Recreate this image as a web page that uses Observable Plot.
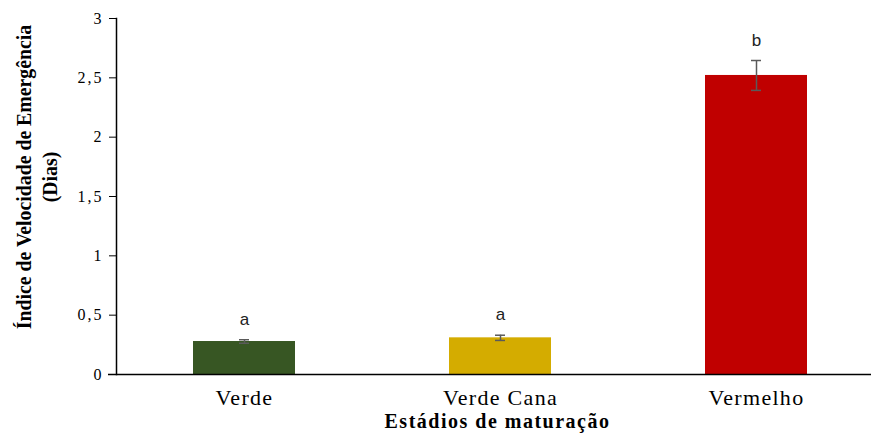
<!DOCTYPE html>
<html><head><meta charset="utf-8">
<script src="https://cdn.jsdelivr.net/npm/d3@7"></script>
<script src="https://cdn.jsdelivr.net/npm/@observablehq/plot@0.6"></script>
<style>
html,body{margin:0;padding:0;background:#fff;overflow:hidden;}
</style>
</head><body>
<div id="chart"></div>
<script>
const categories = ["Verde", "Verde Cana", "Vermelho"];
const means = [0.278, 0.309, 2.52];
const errors = [0.015, 0.022, 0.126];
const letters = ["a", "a", "b"];
const colors = ["#375623", "#D4AC00", "#C00000"];
const yTicks = [0, 0.5, 1, 1.5, 2, 2.5, 3];
const yTitle = "Índice de Velocidade de Emergência\n(Dias)";
const xTitle = "Estádios de maturação";

const data = categories.map((c, i) => ({cat: c, v: means[i], e: errors[i], l: letters[i]}));
const serif = "'Liberation Serif', 'Times New Roman', serif";
const sans = "'Liberation Sans', Arial, sans-serif";

const chart = Plot.plot({
  width: 884,
  height: 433,
  marginLeft: 116,
  marginRight: 0,
  marginTop: 18,
  marginBottom: 59,
  style: {background: "#fff", color: "#000", overflow: "visible", maxWidth: "none", fontFamily: serif},
  x: {domain: categories, paddingInner: 0.6, paddingOuter: 0.3, label: null},
  y: {domain: [0, 3], label: null},
  color: {domain: categories, range: colors},
  marks: [
    Plot.barY(data, {x: "cat", y: "v", fill: "cat"}),
    Plot.ruleX(data, {x: "cat", y1: d => d.v - d.e, y2: d => d.v + d.e, stroke: "#5a5a5a", strokeWidth: 1.5}),
    Plot.tickY(data, {x: "cat", y: d => d.v - d.e, stroke: "#5a5a5a", strokeWidth: 1.5, insetLeft: 46, insetRight: 46}),
    Plot.tickY(data, {x: "cat", y: d => d.v + d.e, stroke: "#5a5a5a", strokeWidth: 1.5, insetLeft: 46, insetRight: 46}),
    Plot.text(data, {x: "cat", y: d => d.v + d.e, text: "l", dy: -15, lineAnchor: "bottom", fontFamily: sans, fontSize: 17, fill: "#222"}),
    Plot.axisY({ticks: yTicks, tickFormat: d => String(d).replace(".", ","), tickSize: 7, tickPadding: 6, fontFamily: serif, fontSize: 16, label: null}),
    Plot.axisX({tickSize: 0, tickPadding: 15, fontFamily: serif, fontSize: 22, label: null}),
    Plot.ruleY([0], {stroke: "#000", strokeWidth: 1.5, insetLeft: -8}),
    Plot.frame({anchor: "left", stroke: "#000", strokeWidth: 1.5}),
    Plot.text([yTitle], {frameAnchor: "left", textAnchor: "middle", rotate: -90, dx: -81, dy: -19.5, lineAnchor: "middle", lineHeight: 1.18, fontFamily: serif, fontWeight: "bold", fontSize: 22, fill: "#000"}),
    Plot.text([xTitle], {frameAnchor: "bottom", dx: -3, dy: 47.5, lineAnchor: "middle", fontFamily: serif, fontWeight: "bold", fontSize: 20, fill: "#000"})
  ]
});
const yLabels = yTicks.map(d => String(d).replace(".", ","));
chart.querySelectorAll("text").forEach(t => {
  const s = t.textContent;
  if (s.startsWith("Índice")) {
    t.setAttribute("transform", (t.getAttribute("transform") || "") + " scale(0.9,1)");
  } else if (s === xTitle) {
    t.style.letterSpacing = "1.5px";
  } else if (categories.includes(s)) {
    t.style.fontSize = "22px";
    t.style.letterSpacing = "1.3px";
  } else if (yLabels.includes(s)) {
    t.style.fontSize = "16px";
    t.style.letterSpacing = "2px";
  }
});
document.getElementById("chart").appendChild(chart);
</script>
</body></html>
